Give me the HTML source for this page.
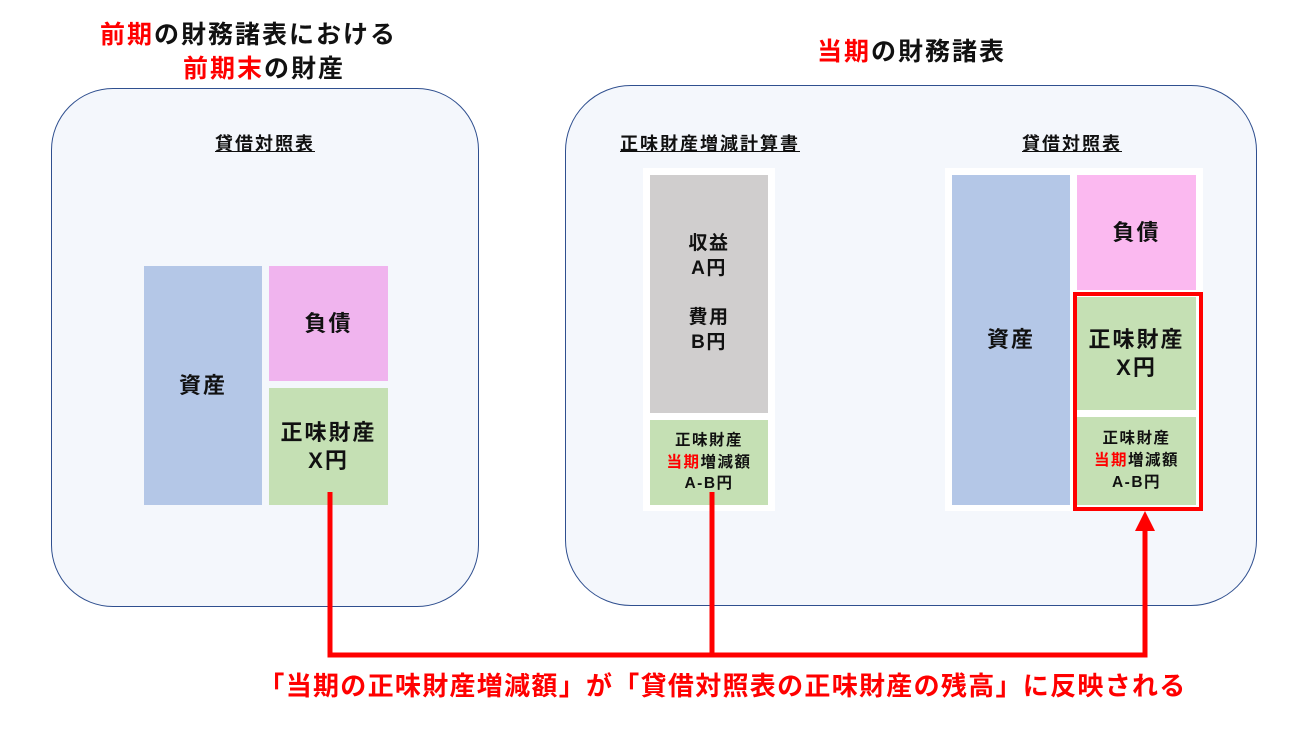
<!DOCTYPE html>
<html><head><meta charset="utf-8"><style>
body{margin:0;width:1304px;height:738px;background:#fff;position:relative;overflow:hidden;font-family:"Liberation Sans","Noto Sans CJK JP",sans-serif;font-weight:bold;color:#111}
div{position:absolute;box-sizing:border-box}
.r{color:#f00}
.t{font-size:25px;letter-spacing:2px;white-space:nowrap}
.u{font-size:18px;letter-spacing:2px;text-decoration:underline;white-space:nowrap;text-align:center}
.c{display:flex;align-items:center;justify-content:center;text-align:center;line-height:1.25}
.c>p{margin:0}
.big{font-size:22px;letter-spacing:2px}
.sm{font-size:15.5px;letter-spacing:1.5px}
</style></head><body>
<div class="t" style="left:100px;top:15px;width:320px"><span class="r">前期</span>の財務諸表における</div>
<div class="t" style="left:183px;top:49px"><span class="r">前期末</span>の財産</div>
<div class="t" style="left:817px;top:32px"><span class="r">当期</span>の財務諸表</div>

<div style="left:51px;top:88px;width:428px;height:519px;border:1.5px solid #2f4f8f;border-radius:62px;background:#f4f7fc"></div>
<div style="left:565px;top:85px;width:692px;height:521px;border:1.5px solid #2f4f8f;border-radius:66px;background:#f4f7fc"></div>

<div class="u" style="left:165px;top:130px;width:200px">貸借対照表</div>
<div class="c big" style="left:144px;top:266px;width:118px;height:239px;background:#b4c7e7"><p>資産</p></div>
<div class="c big" style="left:269px;top:266px;width:119px;height:115px;background:#f0b4ee"><p>負債</p></div>
<div class="c big" style="left:269px;top:388px;width:119px;height:117px;background:#c5e0b4"><p>正味財産<br>X円</p></div>

<div class="u" style="left:590px;top:130px;width:240px">正味財産増減計算書</div>
<div style="left:643px;top:168px;width:132px;height:343px;background:#fff"></div>
<div class="c" style="left:650px;top:175px;width:118px;height:238px;background:#d0cece;font-size:19px;letter-spacing:1.5px;line-height:1.3"><p>収益<br>A円<br><br>費用<br>B円</p></div>
<div class="c sm" style="left:650px;top:420px;width:118px;height:85px;background:#c5e0b4;line-height:1.4"><p>正味財産<br><span class="r">当期</span>増減額<br>A-B円</p></div>

<div class="u" style="left:972px;top:130px;width:200px">貸借対照表</div>
<div style="left:945px;top:168px;width:258px;height:343px;background:#fff"></div>
<div class="c big" style="left:952px;top:175px;width:118px;height:330px;background:#b4c7e7"><p>資産</p></div>
<div class="c big" style="left:1077px;top:175px;width:119px;height:115px;background:#fbb9f0"><p>負債</p></div>
<div class="c big" style="left:1077px;top:297px;width:119px;height:113px;background:#c5e0b4"><p>正味財産<br>X円</p></div>
<div class="c sm" style="left:1077px;top:417px;width:119px;height:88px;background:#c5e0b4;line-height:1.4"><p>正味財産<br><span class="r">当期</span>増減額<br>A-B円</p></div>
<div style="left:1073px;top:292px;width:130px;height:219px;border:4px solid #f00"></div>

<svg style="position:absolute;left:0;top:0" width="1304" height="738">
<polyline points="330,492 330,655 1145,655 1145,528" fill="none" stroke="#f00" stroke-width="5"/>
<line x1="712" y1="492" x2="712" y2="655" stroke="#f00" stroke-width="5"/>
<polygon points="1135,531 1155,531 1145,511" fill="#f00"/>
</svg>
<div style="left:200px;top:666px;width:1045px;text-align:center;font-size:26px;letter-spacing:1.3px;color:#f00;white-space:nowrap">「当期の正味財産増減額」が「貸借対照表の正味財産の残高」に反映される</div>
</body></html>
